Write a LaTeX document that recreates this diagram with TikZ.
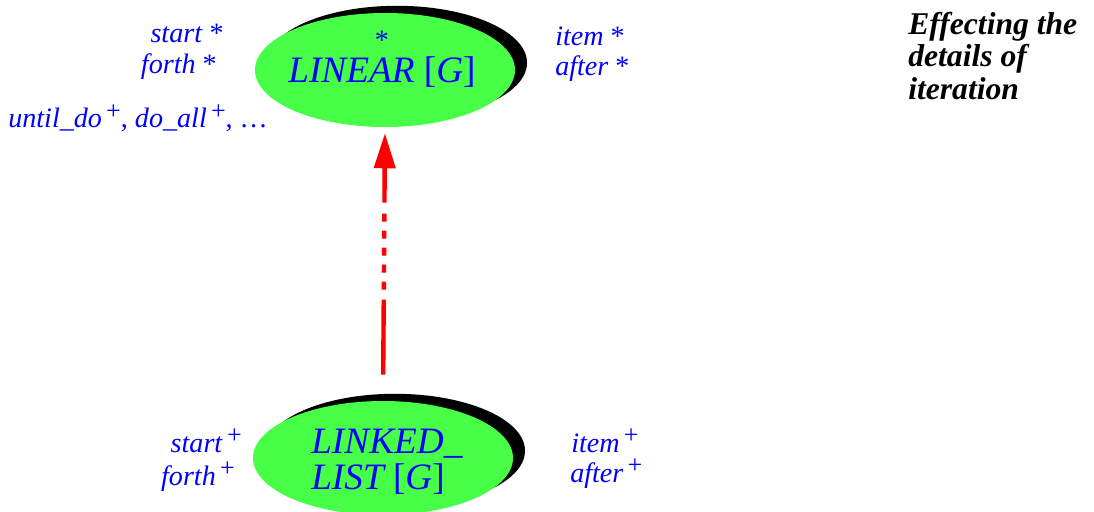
\documentclass[tikz,border=0pt]{standalone}
\usepackage{fontspec}
\setmainfont{Liberation Serif}
\usetikzlibrary{shapes.geometric,shadows,arrows.meta}
\definecolor{classgreen}{RGB}{70,255,70}
\newcommand{\plusup}{\hspace{0.15em}\raisebox{0.3em}{\fontsize{18.5}{18.5}\selectfont +}}

\begin{document}
\begin{tikzpicture}[
	class/.style={shape=ellipse, fill=classgreen, minimum width=6.5cm, minimum height=2.85cm, inner sep=0pt,
		drop shadow={shadow xshift=0.3cm, shadow yshift=0.18cm, fill=black, opacity=1}},
	feat/.style={text=blue, font=\fontsize{20}{22}\selectfont, inner sep=0pt},
	cname/.style={text=blue, font=\fontsize{26.5}{23.5}\selectfont\itshape, inner sep=0pt},
	inherit/.style={color=red, line width=0.11cm, -{Triangle[length=0.875cm,width=0.525cm]},
		dash pattern=on 1.875cm off 0.25cm on 0.2cm off 0.225cm on 0.2cm off 0.225cm on 0.2cm off 0.225cm on 0.2cm off 0.225cm on 0.2cm off 0.275cm on 4cm}]
			\useasboundingbox (0,0) rectangle (27.35,12.775);
			
			\node[class] (linear) at (9.625,11.025) {};
			\node[class] (linkedlist) at (9.575,1.325) {};
			
			\node[cname, align=center] (lineartext) at (9.55,11.29) {{\fontsize{20}{20}\selectfont\upshape *}\\LINEAR {\upshape[}G{\upshape]}};
			\node[cname, align=left, anchor=west, font=\fontsize{26.5}{25.5}\selectfont\itshape] (linkedtext) at (7.775,1.24) {LINKED\_\\LIST {\upshape[}G{\upshape]}};
			
			\node[feat, anchor=base east] (start) at (5.6,11.7) {\textit{start} *};
			\node[feat, anchor=base east] (forth) at (5.425,10.95) {\textit{forth} *};
			\node[feat, anchor=base west] (until) at (0.2,9.575) {\textit{until\_do}\plusup, \textit{do\_all}\plusup, \dots};
			\node[feat, anchor=base west] (item) at (13.875,11.65) {\textit{item} *};
			\node[feat, anchor=base west] (after) at (13.875,10.9) {\textit{after} *};
			
			\node[feat, anchor=base east] (lstart) at (6.05,1.475) {\textit{start}\plusup};
			\node[feat, anchor=base east] (lforth) at (5.875,0.65) {\textit{forth}\plusup};
			\node[feat, anchor=base west] (litem) at (14.275,1.475) {\textit{item}\plusup};
			\node[feat, anchor=base west] (lafter) at (14.25,0.725) {\textit{after}\plusup};
			
			\node[anchor=north west, inner sep=0pt, align=left, font=\fontsize{22.5}{23}\selectfont\bfseries\itshape] (title) at (22.7,12.48) {Effecting the\\details of\\iteration};
			
			\draw [inherit, shorten <=0.65cm, shorten >=0.15cm] (linkedlist.north) -- (linear.south);
		\end{tikzpicture}
\end{document}
